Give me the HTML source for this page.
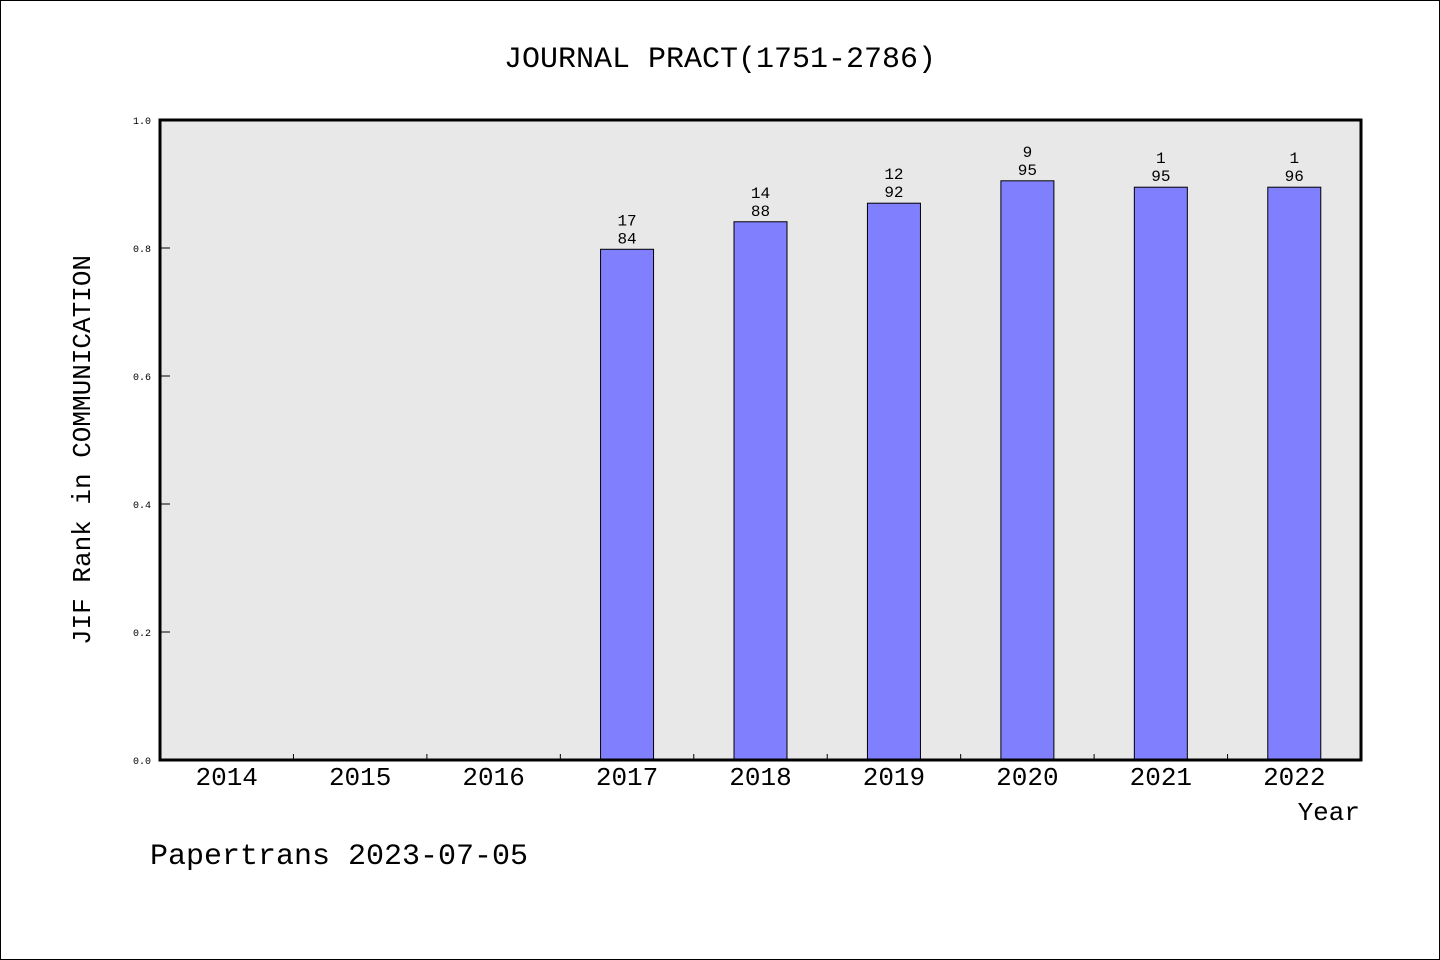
<!DOCTYPE html>
<html><head><meta charset="utf-8"><style>
body{margin:0;background:#fff;}
svg{display:block;font-family:"Liberation Mono","Noto Sans CJK SC",monospace;}
</style></head><body>
<svg id="chart" width="1440" height="960">
<rect x="0.5" y="0.5" width="1439" height="959" fill="#fff" stroke="#000"/>
<text x="720" y="67" font-size="30" text-anchor="middle">JOURNAL PRACT(1751-2786)</text>
<rect x="160" y="120" width="1201" height="640" fill="#e8e8e8"/>
<g id="bars"></g>
<g id="axes"></g>
<text transform="translate(90,450) rotate(-90)" font-size="26" text-anchor="middle">JIF Rank in COMMUNICATION</text>
<text x="1360" y="820" font-size="26" text-anchor="end">Year</text>
<text x="150" y="864" font-size="30">Papertrans 2023-07-05</text>
</svg>
<script>
const years=["2014","2015","2016","2017","2018","2019","2020","2021","2022"];
const values=[null,null,null,0.798,0.841,0.870,0.905,0.895,0.895];
const ranks=[null,null,null,"17","14","12","9","1","1"];
const totals=[null,null,null,"84","88","92","95","95","96"];
const yTicks=["0.0","0.2","0.4","0.6","0.8","1.0"];
const X0=160,X1=1361,Y0=760,Y1=120;
const bw=(X1-X0)/years.length;
const xs=i=>X0+bw*(i+0.5);
const ys=v=>Y0-(Y0-Y1)*v;
const NS="http://www.w3.org/2000/svg";
function mk(t,a,p){const e=document.createElementNS(NS,t);for(const k in a)e.setAttribute(k,a[k]);p.appendChild(e);return e;}
const gb=document.getElementById("bars"),ga=document.getElementById("axes");
values.forEach((v,i)=>{
 if(v==null)return;
 const r=mk("rect",{x:xs(i)-26.5,y:ys(v),width:53,height:Y0-ys(v),fill:"#8080ff",stroke:"#000","stroke-width":1},gb);
 
 
 const t1=mk("text",{x:xs(i),y:ys(v)-24,"font-size":16,"text-anchor":"middle"},gb);t1.textContent=ranks[i];
 
 
 const t2=mk("text",{x:xs(i),y:ys(v)-6,"font-size":16,"text-anchor":"middle"},gb);t2.textContent=totals[i];
 
 
});
yTicks.forEach(s=>{
 const v=parseFloat(s),y=ys(v);
 const l=mk("line",{x1:X0,x2:X0+10,y1:y,y2:y,stroke:"#000"},ga);
 
 
 const t=mk("text",{x:X0-9,y:y+4,"font-size":10,"text-anchor":"end"},ga);t.textContent=s;
 
 
});
years.forEach((yr,i)=>{
 if(i>0){const l=mk("line",{x1:X0+bw*i,x2:X0+bw*i,y1:Y0,y2:Y0-6,stroke:"#000"},ga);
 
 }
 const t=mk("text",{x:xs(i),y:Y0+25,"font-size":26,"text-anchor":"middle"},ga);t.textContent=yr;
 
 
});
const frame=mk("rect",{x:X0,y:Y1,width:X1-X0,height:Y0-Y1,fill:"none",stroke:"#000","stroke-width":3},ga);


</script>
</body></html>
